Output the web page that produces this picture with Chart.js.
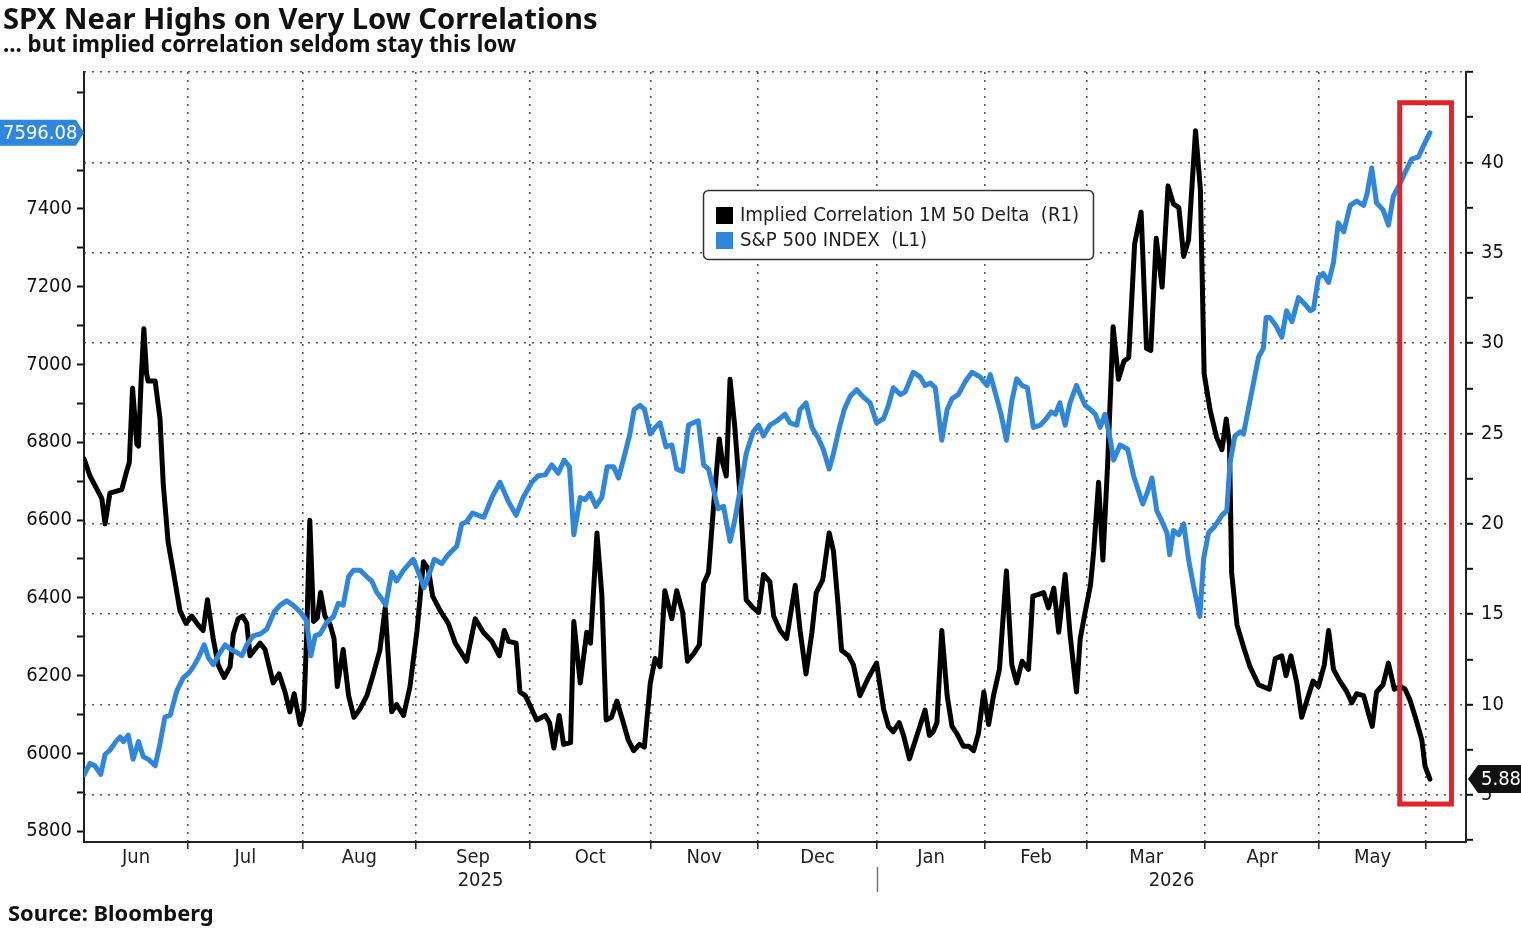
<!DOCTYPE html>
<html>
<head>
<meta charset="utf-8">
<title>SPX Near Highs on Very Low Correlations</title>
<script src="https://cdn.jsdelivr.net/npm/chart.js@4.4.1/dist/chart.umd.min.js"></script>
<style>
  html, body { margin: 0; padding: 0; background: #fff; overflow: hidden; }
  #chart { display: block; }
</style>
</head>
<body>
<canvas id="chart" width="1521" height="930"></canvas>
<script>
// x values are trading-day indices counted from the first session of June 2025
const corrDays = [
  0.2, 1.3, 2.8, 3.5, 4.1, 5.0, 6.1, 7.2, 8.1, 8.6, 9.2, 10.0, 10.3, 10.8, 11.3, 11.8, 12.1, 13.4, 14.3, 14.9,
  15.8, 16.8, 18.0, 19.1, 20.2, 21.4, 22.3, 23.1, 24.2, 25.1, 26.2, 27.3, 27.9, 28.8, 29.6, 30.4, 31.0, 31.9, 32.9, 33.8,
  35.3, 36.4, 37.5, 38.4, 39.2, 40.3, 41.0, 41.5, 42.1, 42.8, 43.5, 44.1, 44.9, 45.9, 46.6, 47.2, 48.3, 49.3, 50.3, 51.4,
  52.7, 53.9, 55.1, 56.1, 57.3, 58.2, 59.5, 60.7, 62.0, 63.2, 64.1, 64.9, 66.3, 67.8, 69.1, 71.2, 72.8, 74.3, 75.9, 77.3,
  78.2, 79.0, 80.4, 81.1, 82.1, 83.3, 84.2, 85.8, 86.6, 87.4, 88.4, 89.2, 90.5, 91.1, 92.3, 93.5, 94.2, 95.4, 96.3, 97.1,
  98.1, 99.1, 100.3, 101.2, 102.2, 103.3, 104.2, 105.3, 106.2, 107.1, 108.0, 109.3, 110.2, 111.3, 112.2, 113.3, 114.4, 115.2, 116.1, 117.1,
  118.1, 118.7, 119.4, 120.1, 121.0, 122.0, 123.1, 124.4, 125.4, 126.3, 127.5, 128.2, 129.4, 130.6, 132.2, 133.1, 134.2, 135.3, 136.1, 137.3,
  138.5, 139.3, 140.2, 140.8, 142.1, 143.0, 144.2, 145.8, 147.3, 148.6, 149.5, 150.4, 151.5, 152.3, 153.4, 154.8, 156.3, 157.1, 157.8, 158.5,
  159.4, 160.4, 161.3, 162.2, 163.4, 164.4, 165.3, 166.2, 167.2, 168.1, 169.0, 170.1, 171.4, 172.4, 173.3, 174.3, 175.5, 176.3, 177.4, 178.3,
  179.2, 180.2, 181.1, 182.3, 183.2, 184.4, 185.1, 186.0, 187.0, 187.6, 188.5, 189.3, 190.2, 191.2, 192.2, 193.2, 194.1, 195.2, 196.4, 197.4,
  198.2, 199.2, 200.3, 201.4, 202.4, 203.4, 204.3, 205.2, 206.5, 207.4, 208.1, 209.2, 210.4, 211.4, 212.2, 212.8, 213.2, 214.2, 215.4, 216.6,
  218.2, 220.2, 221.3, 222.5, 223.3, 224.2, 225.3, 226.2, 227.2, 228.3, 229.3, 230.4, 231.2, 232.1, 233.3, 234.6, 235.5, 236.4, 237.7, 238.6,
  239.3, 240.1, 241.3, 242.3, 243.4, 244.5, 245.4, 246.3, 247.3, 248.5, 249.1, 250.0
];
const corrVals = [
  23.6, 22.65, 21.8, 21.4, 20.0, 21.7, 21.8, 21.9, 22.9, 23.4, 27.5, 24.4, 24.3, 28.0, 30.8, 28.3, 27.9, 27.9, 25.8, 22.2,
  19.0, 17.3, 15.2, 14.5, 14.9, 14.4, 14.1, 15.8, 13.6, 12.2, 11.5, 12.1, 13.9, 14.75, 14.9, 14.5, 12.7, 13.05, 13.4, 13.05,
  11.2, 11.7, 10.7, 9.6, 10.6, 8.9, 9.75, 13.65, 20.2, 14.6, 14.8, 16.2, 14.9, 14.4, 13.65, 11.0, 13.05, 10.5, 9.3, 9.76,
  10.5, 11.7, 13.0, 15.35, 9.6, 10.0, 9.4, 11.0, 14.1, 17.9, 17.5, 16.0, 15.2, 14.5, 13.4, 12.4, 14.75, 14.0, 13.5, 12.7,
  14.1, 13.5, 13.4, 10.7, 10.5, 9.75, 9.15, 9.4, 9.0, 7.6, 9.4, 7.8, 7.9, 14.6, 11.2, 14.0, 13.4, 19.5, 16.1, 9.15,
  9.3, 10.2, 9.0, 8.05, 7.45, 7.8, 7.65, 11.2, 12.55, 12.1, 16.3, 14.75, 16.3, 15.1, 12.4, 12.8, 13.3, 16.7, 17.3, 21.2,
  24.7, 23.4, 22.65, 28.0, 25.3, 21.4, 15.8, 15.35, 15.1, 17.2, 16.8, 14.9, 14.1, 13.65, 16.6, 14.1, 11.7, 14.0, 16.2, 16.9,
  19.5, 18.5, 15.35, 13.0, 12.7, 12.2, 10.5, 11.5, 12.3, 9.75, 8.8, 8.5, 9.0, 8.3, 7.0, 8.3, 9.7, 8.3, 8.5, 9.0,
  14.1, 10.5, 8.8, 8.4, 7.7, 7.7, 7.45, 8.4, 10.7, 8.9, 10.5, 11.95, 17.4, 12.2, 11.2, 12.4, 11.95, 16.0, 16.1, 16.2,
  15.35, 16.45, 14.0, 17.2, 13.9, 10.7, 13.65, 15.1, 16.6, 18.5, 22.3, 18.0, 23.4, 30.9, 28.0, 29.0, 29.2, 35.5, 37.25, 29.7,
  29.6, 35.8, 33.1, 38.7, 37.7, 37.5, 34.8, 35.7, 41.75, 38.5, 28.3, 26.3, 24.8, 24.1, 25.8, 24.4, 17.3, 14.4, 13.2, 12.1,
  11.1, 10.85, 12.55, 12.7, 11.6, 12.7, 11.2, 9.3, 10.25, 11.3, 11.0, 12.2, 14.1, 11.95, 11.3, 10.7, 10.1, 10.6, 10.5, 9.5,
  8.8, 10.7, 11.1, 12.3, 10.85, 11.0, 10.85, 10.25, 9.3, 8.05, 6.6, 5.88
];

const spxDays = [
  0.2, 1.3, 2.2, 3.3, 4.1, 5.0, 6.1, 6.9, 7.5, 8.4, 9.3, 10.3, 11.2, 12.1, 13.4, 14.3, 15.2, 16.2, 17.4, 18.6,
  19.6, 20.5, 21.4, 22.5, 23.3, 24.2, 25.3, 26.4, 27.3, 28.2, 29.5, 30.4, 31.6, 32.9, 34.1, 35.5, 36.6, 37.8, 39.0, 40.3,
  41.5, 42.3, 43.1, 44.0, 45.2, 46.5, 47.4, 48.3, 49.3, 50.2, 51.4, 52.7, 53.6, 54.5, 55.4, 56.2, 57.3, 58.2, 59.5, 61.3,
  62.4, 63.3, 64.1, 65.2, 66.6, 67.8, 69.4, 70.3, 71.2, 72.3, 73.4, 74.4, 75.9, 77.4, 79.0, 80.4, 81.7, 83.3, 84.5, 85.8,
  87.0, 88.2, 89.3, 90.3, 91.1, 92.3, 93.2, 94.1, 95.2, 96.3, 97.3, 98.5, 99.4, 100.6, 101.5, 102.3, 103.4, 104.2, 105.3, 106.2,
  107.1, 108.2, 109.3, 110.2, 111.3, 112.4, 113.3, 114.2, 115.2, 116.1, 117.0, 117.9, 118.9, 120.1, 121.0, 122.0, 123.1, 124.4, 125.4, 126.3,
  127.5, 128.8, 130.3, 131.2, 132.5, 133.1, 134.2, 135.3, 136.5, 137.4, 138.5, 139.3, 140.4, 141.3, 142.4, 143.6, 144.7, 146.1, 147.3, 148.6,
  149.5, 150.4, 151.7, 152.6, 154.1, 155.4, 156.3, 157.3, 158.2, 159.4, 160.4, 161.3, 162.5, 163.8, 165.0, 166.5, 167.8, 168.4, 169.3, 170.4,
  171.4, 172.4, 173.3, 174.3, 175.3, 176.4, 177.7, 178.8, 179.7, 180.5, 181.3, 182.3, 183.2, 184.4, 185.1, 186.0, 187.0, 187.9, 188.8, 189.7,
  190.7, 191.3, 192.5, 193.9, 195.0, 195.9, 196.7, 197.5, 198.4, 199.3, 200.3, 201.2, 201.7, 202.4, 203.4, 204.3, 205.2, 206.1, 207.3, 208.0,
  208.9, 210.1, 211.4, 212.3, 212.9, 213.8, 214.8, 215.4, 216.6, 218.2, 219.1, 219.6, 220.3, 221.5, 222.5, 223.4, 224.4, 225.6, 226.8, 227.8,
  228.4, 229.3, 230.2, 231.2, 232.1, 233.0, 234.0, 235.2, 236.4, 237.7, 238.3, 239.2, 240.1, 241.3, 242.3, 243.2, 244.5, 245.4, 246.6, 247.9,
  248.8, 250.0
];
const spxVals = [
  5945, 5974, 5968, 5946, 5997, 6008, 6030, 6042, 6030, 6047, 5985, 6030, 5991, 5985, 5968, 6025, 6093, 6098, 6160, 6194,
  6206, 6223, 6245, 6279, 6245, 6228, 6256, 6279, 6268, 6262, 6251, 6279, 6302, 6307, 6319, 6364, 6381, 6392, 6381, 6364,
  6341, 6251, 6302, 6307, 6336, 6352, 6386, 6381, 6454, 6471, 6471, 6454, 6443, 6415, 6398, 6381, 6466, 6443, 6471, 6499,
  6460, 6426, 6454, 6499, 6488, 6511, 6533, 6590, 6595, 6618, 6612, 6607, 6658, 6697, 6646, 6612, 6658, 6697, 6714, 6716,
  6742, 6720, 6754, 6737, 6562, 6658, 6652, 6669, 6635, 6658, 6737, 6737, 6708, 6771, 6821, 6884, 6895, 6885, 6821, 6838,
  6850, 6788, 6793, 6731, 6725, 6844, 6850, 6855, 6742, 6731, 6680, 6629, 6635, 6545, 6601, 6680, 6771, 6827, 6844, 6816,
  6844, 6855, 6872, 6850, 6844, 6884, 6901, 6838, 6810, 6782, 6731, 6771, 6838, 6884, 6918, 6935, 6918, 6901, 6850, 6861,
  6895, 6940, 6923, 6929, 6980, 6968, 6946, 6952, 6940, 6805, 6884, 6912, 6923, 6957, 6980, 6968, 6946, 6974, 6929, 6872,
  6805, 6906, 6963, 6946, 6940, 6838, 6844, 6861, 6878, 6872, 6901, 6844, 6901, 6946, 6923, 6895, 6884, 6872, 6838, 6872,
  6805, 6754, 6793, 6782, 6714, 6675, 6641, 6669, 6708, 6624, 6595, 6567, 6511, 6573, 6562, 6590, 6499, 6432, 6352, 6500,
  6567, 6584, 6612, 6624, 6748, 6816, 6827, 6821, 6906, 7019, 7042, 7121, 7121, 7098, 7070, 7138, 7110, 7172, 7155, 7138,
  7143, 7223, 7234, 7211, 7262, 7364, 7341, 7409, 7420, 7409, 7437, 7505, 7415, 7398, 7358, 7432, 7466, 7494, 7528, 7534,
  7562, 7596.08
];

// month boundaries on the same trading-day axis (Jul 2025 .. Jun 2026)
const monthStarts = [19.5, 40.8, 61.8, 83.0, 105.3, 125.3, 147.4, 167.4, 186.4, 208.3, 229.4, 249.3];
const monthNames = ['Jun', 'Jul', 'Aug', 'Sep', 'Oct', 'Nov', 'Dec', 'Jan', 'Feb', 'Mar', 'Apr', 'May'];
const yearNames = ['2025', '2026'];
const spxTicks = [5800, 5900, 6000, 6100, 6200, 6300, 6400, 6500, 6600, 6700, 6800, 6900, 7000, 7100, 7200, 7300, 7400, 7500, 7600, 7700];
const corrTicks = [2.5, 5, 7.5, 10, 12.5, 15, 17.5, 20, 22.5, 25, 27.5, 30, 32.5, 35, 37.5, 40, 42.5, 45];

// red highlight around the latest readings (x in trading days, y in correlation units)
const highlight = { from: 244.4, to: 254.0, top: 43.3, bottom: 4.5 };

const TITLE = 'SPX Near Highs on Very Low Correlations';
const SUBTITLE = '... but implied correlation seldom stay this low';
const SOURCE = 'Source: Bloomberg';

const BLUE = '#2e87dd';
const NARROW = '"Liberation Sans Narrow", "DejaVu Sans Condensed", "Liberation Sans", sans-serif';
const SANS = '"Noto Sans", "DejaVu Sans", sans-serif';

// pick a font size so that the text spans the given width
function fitFont(ctx, text, weight, family, width) {
    ctx.font = `${weight} 100px ${family}`;
    const size = 100 * width / ctx.measureText(text).width;
    return `${weight} ${size.toFixed(1)}px ${family}`;
}

const overlay = {
    id: 'overlay',
    beforeDraw(chart) {
        const { ctx, width, height } = chart;
        ctx.save();
        ctx.fillStyle = '#fff';
        ctx.fillRect(0, 0, width, height);
        ctx.restore();
    },
    afterDraw(chart) {
        const { ctx, scales: { x, yL, yR } } = chart;
        ctx.save();

        // headline, subtitle, source
        ctx.fillStyle = '#111';
        ctx.textAlign = 'left';
        ctx.textBaseline = 'alphabetic';
        ctx.font = fitFont(ctx, TITLE, 'bold', SANS, 595);
        ctx.fillText(TITLE, 3, 29);
        ctx.font = fitFont(ctx, SUBTITLE, 'bold', SANS, 513);
        ctx.fillText(SUBTITLE, 3, 52);
        ctx.font = fitFont(ctx, SOURCE, 'bold', SANS, 206);
        ctx.fillText(SOURCE, 8, 921);

        // month names centred in each month, years below
        ctx.font = `20px ${NARROW}`;
        ctx.fillStyle = '#222';
        ctx.textAlign = 'center';
        ctx.textBaseline = 'middle';
        const edges = [x.min, ...monthStarts];
        monthNames.forEach((name, i) => {
            ctx.fillText(name, x.getPixelForValue((edges[i] + edges[i + 1]) / 2), 858);
        });
        const split = monthStarts[6];
        ctx.fillText(yearNames[0], x.getPixelForValue((x.min + split) / 2), 881);
        ctx.fillText(yearNames[1], x.getPixelForValue((split + x.max) / 2), 881);
        const sx = Math.round(x.getPixelForValue(split)) + 0.5;
        ctx.strokeStyle = '#777';
        ctx.lineWidth = 1.5;
        ctx.beginPath();
        ctx.moveTo(sx, 867);
        ctx.lineTo(sx, 892);
        ctx.stroke();

        // legend box
        ctx.fillStyle = '#fff';
        ctx.strokeStyle = '#333';
        ctx.lineWidth = 1.5;
        ctx.beginPath();
        ctx.roundRect(703.5, 190.5, 390, 69, 5);
        ctx.fill();
        ctx.stroke();
        const legendFont = fitFont(ctx, chart.data.datasets[0].label, 'normal', NARROW, 340);
        chart.data.datasets.forEach((ds, i) => {
            const cy = 215 + i * 25;
            ctx.fillStyle = ds.borderColor;
            ctx.fillRect(716, cy - 8, 17, 17);
            ctx.fillStyle = '#222';
            ctx.font = legendFont;
            ctx.textAlign = 'left';
            ctx.textBaseline = 'middle';
            ctx.fillText(ds.label, 740, cy + 1);
        });

        // red highlight box
        const bx0 = x.getPixelForValue(highlight.from);
        const bx1 = x.getPixelForValue(highlight.to);
        const by0 = yR.getPixelForValue(highlight.top);
        const by1 = yR.getPixelForValue(highlight.bottom);
        ctx.strokeStyle = '#e4222b';
        ctx.lineWidth = 5;
        ctx.strokeRect(bx0, by0, bx1 - bx0, by1 - by0);

        // last value tags
        const lastSpx = spxVals[spxVals.length - 1];
        const ly = yL.getPixelForValue(lastSpx);
        const lx = x.left;
        ctx.fillStyle = BLUE;
        ctx.beginPath();
        ctx.moveTo(0, ly - 13);
        ctx.lineTo(lx - 8, ly - 13);
        ctx.lineTo(lx, ly);
        ctx.lineTo(lx - 8, ly + 13);
        ctx.lineTo(0, ly + 13);
        ctx.closePath();
        ctx.fill();
        ctx.fillStyle = '#fff';
        ctx.font = `20px ${NARROW}`;
        ctx.textAlign = 'left';
        ctx.fillText(lastSpx.toFixed(2), 3, ly + 1);

        const lastCorr = corrVals[corrVals.length - 1];
        const ry = yR.getPixelForValue(lastCorr);
        const rx = x.right;
        ctx.fillStyle = '#111';
        ctx.beginPath();
        ctx.moveTo(rx + 2, ry);
        ctx.lineTo(rx + 12, ry - 14);
        ctx.lineTo(1521, ry - 14);
        ctx.lineTo(1521, ry + 14);
        ctx.lineTo(rx + 12, ry + 14);
        ctx.closePath();
        ctx.fill();
        ctx.fillStyle = '#fff';
        ctx.fillText(lastCorr.toFixed(2), rx + 15, ry + 1);

        ctx.restore();
    }
};

const dotted = [2, 6];

new Chart(document.getElementById('chart'), {
    type: 'line',
    data: {
        datasets: [
            {
                label: 'Implied Correlation 1M 50 Delta  (R1)',
                data: corrDays.map((d, i) => ({ x: d, y: corrVals[i] })),
                yAxisID: 'yR',
                borderColor: '#000',
                borderWidth: 5,
                borderJoinStyle: 'round',
                borderCapStyle: 'round',
                pointRadius: 0,
                tension: 0,
                order: 1
            },
            {
                label: 'S&P 500 INDEX  (L1)',
                data: spxDays.map((d, i) => ({ x: d, y: spxVals[i] })),
                yAxisID: 'yL',
                borderColor: BLUE,
                borderWidth: 5,
                borderJoinStyle: 'round',
                borderCapStyle: 'round',
                pointRadius: 0,
                tension: 0,
                order: 0
            }
        ]
    },
    options: {
        responsive: false,
        animation: false,
        layout: { padding: { top: 72, left: 0, right: 0, bottom: 0 } },
        plugins: {
            legend: { display: false },
            tooltip: { enabled: false }
        },
        scales: {
            x: {
                type: 'linear',
                min: 0.19,
                max: 256.7,
                afterBuildTicks: s => { s.ticks = monthStarts.map(v => ({ value: v })); },
                afterFit: s => { s.height = 88; },
                ticks: { display: false },
                grid: { color: '#555', lineWidth: 1.6, tickLength: 7, tickColor: '#222', tickWidth: 1.5 },
                border: { color: '#222', width: 2, dash: dotted }
            },
            yL: {
                position: 'left',
                min: 5772,
                max: 7752,
                afterBuildTicks: s => { s.ticks = spxTicks.map(v => ({ value: v })); },
                afterFit: s => { s.width = 84; },
                ticks: {
                    autoSkip: false,
                    padding: 5,
                    color: '#111',
                    font: { family: NARROW, size: 20 },
                    callback: v => (v % 200 === 0 && v !== 7600) ? String(v) : ''
                },
                grid: { drawOnChartArea: false, tickLength: 7, tickColor: '#111', tickWidth: 2 },
                border: { color: '#222', width: 2 }
            },
            yR: {
                position: 'right',
                min: 2.4,
                max: 45,
                afterBuildTicks: s => { s.ticks = corrTicks.map(v => ({ value: v })); },
                afterFit: s => { s.width = 55; },
                ticks: {
                    autoSkip: false,
                    padding: 8,
                    color: '#111',
                    font: { family: NARROW, size: 20 },
                    callback: v => (v % 5 === 0 && v !== 45) ? String(v) : ''
                },
                grid: {
                    color: c => (c.tick && c.tick.value % 5 === 0) ? '#555' : 'rgba(0,0,0,0)',
                    lineWidth: 1.6,
                    tickLength: 7,
                    tickColor: '#111',
                    tickWidth: 2
                },
                border: { color: '#222', width: 2, dash: dotted }
            }
        }
    },
    plugins: [overlay]
});
</script>
</body>
</html>
